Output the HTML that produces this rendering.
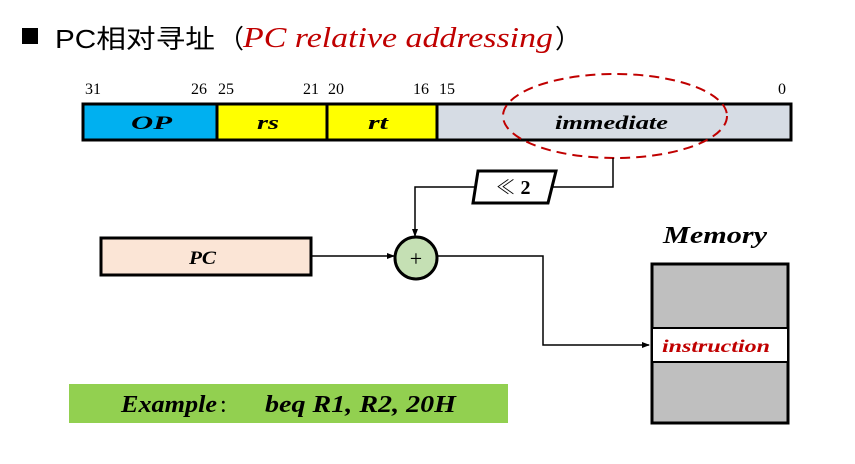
<!DOCTYPE html>
<html><head><meta charset="utf-8"><style>
html,body{margin:0;padding:0;background:#fff;}
svg{display:block;}
.s{font-family:"Liberation Serif","Noto Serif CJK SC",serif;}
.bi{font-family:"Liberation Serif",serif;font-style:italic;font-weight:bold;}
</style></head><body>
<svg width="855" height="464" viewBox="0 0 855 464" xmlns="http://www.w3.org/2000/svg">
<defs><marker id="a" markerWidth="8" markerHeight="8" refX="7" refY="4" orient="auto" markerUnits="userSpaceOnUse"><path d="M0,1 L8,4 L0,7 z" fill="#000"/></marker></defs>
<rect x="22" y="28" width="16" height="16" fill="#000"/>
<text x="55" y="48" font-family="'Liberation Sans','Noto Sans CJK SC',sans-serif" font-size="26" fill="#000" textLength="160" lengthAdjust="spacingAndGlyphs">PC相对寻址</text>
<text x="218" y="48" font-family="'Noto Sans CJK SC',sans-serif" font-size="26" fill="#000">（</text>
<text x="243" y="47" font-family="'Liberation Serif',serif" font-style="italic" font-size="28" fill="#c00000" textLength="310" lengthAdjust="spacingAndGlyphs">PC relative addressing</text>
<text x="555" y="48" font-family="'Noto Sans CJK SC',sans-serif" font-size="26" fill="#000">）</text>
<g class="s" font-size="16" fill="#000">
<text x="85" y="94">31</text><text x="191" y="94">26</text><text x="218" y="94">25</text>
<text x="303" y="94">21</text><text x="328" y="94">20</text><text x="413" y="94">16</text>
<text x="439" y="94">15</text><text x="778" y="94">0</text>
</g>
<rect x="83" y="104" width="134" height="36" fill="#00b0f0"/>
<rect x="217" y="104" width="110" height="36" fill="#ffff00"/>
<rect x="327" y="104" width="110" height="36" fill="#ffff00"/>
<rect x="437" y="104" width="354" height="36" fill="#d6dce4"/>
<rect x="83" y="104" width="708" height="36" fill="none" stroke="#000" stroke-width="3"/>
<line x1="217" y1="104" x2="217" y2="140" stroke="#000" stroke-width="3"/>
<line x1="327" y1="104" x2="327" y2="140" stroke="#000" stroke-width="3"/>
<line x1="437" y1="104" x2="437" y2="140" stroke="#000" stroke-width="3"/>
<g class="bi" font-size="19" fill="#000" lengthAdjust="spacingAndGlyphs">
<text x="131" y="129" textLength="41" lengthAdjust="spacingAndGlyphs">OP</text>
<text x="257" y="129" textLength="22" lengthAdjust="spacingAndGlyphs">rs</text>
<text x="368" y="129" textLength="20" lengthAdjust="spacingAndGlyphs">rt</text>
<text x="555" y="129" textLength="113" lengthAdjust="spacingAndGlyphs">immediate</text>
</g>
<ellipse cx="615" cy="116" rx="112" ry="42" fill="none" stroke="#c00000" stroke-width="2" stroke-dasharray="10,6"/>
<polyline points="613,158 613,187 553,187" fill="none" stroke="#000" stroke-width="1.5"/>
<polygon points="478,171 556,171 548,203 473,203" fill="#fff" stroke="#000" stroke-width="3"/>
<text x="513" y="194" class="s" font-size="20" text-anchor="middle" fill="#000">≪ <tspan font-weight="bold">2</tspan></text>
<polyline points="476,187 415,187 415,236" fill="none" stroke="#000" stroke-width="1.5" marker-end="url(#a)"/>
<circle cx="416" cy="258" r="21" fill="#c5e0b4" stroke="#000" stroke-width="3"/>
<text x="416" y="266" class="s" font-size="22" text-anchor="middle" fill="#000">+</text>
<rect x="101" y="238" width="210" height="37" fill="#fbe5d6" stroke="#000" stroke-width="3"/>
<text x="189" y="264" class="bi" font-size="19" textLength="27" lengthAdjust="spacingAndGlyphs" fill="#000">PC</text>
<line x1="311" y1="256" x2="394" y2="256" stroke="#000" stroke-width="1.5" marker-end="url(#a)"/>
<polyline points="437,256 543,256 543,345 649,345" fill="none" stroke="#000" stroke-width="1.5" marker-end="url(#a)"/>
<text x="663" y="243" class="bi" font-size="24" textLength="104" lengthAdjust="spacingAndGlyphs" fill="#000">Memory</text>
<rect x="652" y="264" width="136" height="159" fill="#bfbfbf" stroke="#000" stroke-width="3"/>
<rect x="652" y="328" width="136" height="34" fill="#fff" stroke="#000" stroke-width="2"/>
<text x="662" y="352" class="bi" font-size="18" textLength="108" lengthAdjust="spacingAndGlyphs" fill="#c00000">instruction</text>
<rect x="69" y="384" width="439" height="39" fill="#92d050"/>
<text x="121" y="412" class="bi" font-size="24" textLength="96" lengthAdjust="spacingAndGlyphs" fill="#000">Example</text>
<text x="220" y="412" class="s" font-size="24" fill="#000">:</text>
<text x="265" y="412" class="bi" font-size="24" textLength="191" lengthAdjust="spacingAndGlyphs" fill="#000">beq  R1, R2, 20H</text>
</svg>
</body></html>
